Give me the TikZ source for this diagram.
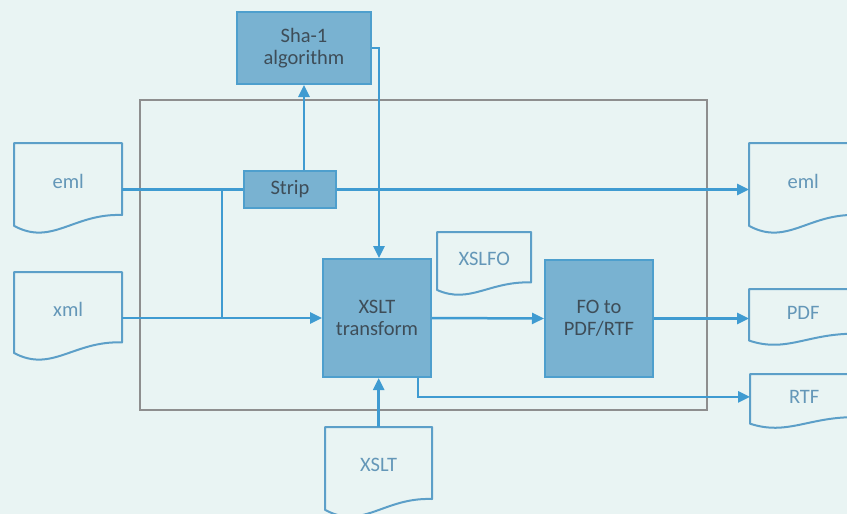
\documentclass[tikz,border=0pt]{standalone}
\usepackage{fontspec}
\setmainfont{Carlito}
\usetikzlibrary{arrows.meta,calc}
\definecolor{bg}{HTML}{E9F4F3}
\definecolor{boxfill}{HTML}{79B2D1}
\definecolor{boxedge}{HTML}{4E9FCD}
\definecolor{conncol}{HTML}{3F9BD1}
\definecolor{docedge}{HTML}{5C9FC8}
\definecolor{doctext}{HTML}{6497B8}
\definecolor{boxtext}{HTML}{3E4D58}
\definecolor{framecol}{HTML}{8E8E8E}
\tikzset{
  procbox/.style={draw=boxedge, fill=boxfill, line width=2pt, text=boxtext, align=center,
    font=\fontsize{20.5}{22}\selectfont, inner sep=0pt},
  docnode/.style={draw=none, text=doctext, font=\fontsize{20.5}{22}\selectfont, inner sep=0pt},
  docline/.style={draw=docedge, line width=2pt, line join=round},
  conn/.style={draw=conncol, line width=2.5pt},
  arr/.style={conn, -{Triangle[length=12pt,width=11pt]}},
  framebox/.style={draw=framecol, line width=1.8pt, inner sep=0pt},
}
% name, left x, top y, width, height, label
\newcommand\docshape[6]{%
  \pgfmathsetmacro\dxa{#2+#4}%
  \pgfmathsetmacro\dyr{#3+0.8*#5}%
  \pgfmathsetmacro\dyl{#3+0.92*#5}%
  \pgfmathsetmacro\cxa{#2+0.55*#4}%
  \pgfmathsetmacro\cya{#3+0.78*#5}%
  \pgfmathsetmacro\cxb{#2+0.35*#4}%
  \pgfmathsetmacro\cyb{#3+1.15*#5}%
  \pgfmathsetmacro\nh{0.84*#5}%
  \node[docnode, anchor=north west, minimum width=#4, minimum height=\nh] (#1) at (#2,#3) {#6};
  \draw[docline] (#2,#3) -- (\dxa,#3) -- (\dxa,\dyr) .. controls (\cxa,\cya) and (\cxb,\cyb) .. (#2,\dyl) -- cycle;
}
\begin{document}
\begin{tikzpicture}[x=1pt,y=-1pt]
\useasboundingbox (0,0) rectangle (847,514);
\fill[bg] (0,0) rectangle (847,514);
\clip (0,0) rectangle (847,514);

\node[framebox, minimum width=567, minimum height=310, anchor=north west] (frame) at (139,99) {};

\node[procbox, minimum width=134, minimum height=72, anchor=north west] (sha) at (236,11) {Sha-1\\algorithm};
\node[procbox, minimum width=92, minimum height=37, anchor=north west] (strip) at (243,170) {Strip};
\node[procbox, minimum width=108, minimum height=118, anchor=north west] (xslt) at (322,258) {XSLT\\transform};
\node[procbox, minimum width=108, minimum height=117, anchor=north west] (fo) at (544,259) {FO to\\PDF/RTF};

\docshape{emlL}{14}{143}{108}{90}{eml}
\docshape{xml}{14}{272}{108}{88}{xml}
\docshape{emlR}{749}{143}{108}{90}{eml}
\docshape{pdf}{749}{289}{108}{56}{PDF}
\docshape{rtf}{750}{374}{108}{54}{RTF}
\docshape{xslfo}{437}{232}{94}{63}{XSLFO}
\docshape{xsltdoc}{325}{427}{107}{90}{XSLT}

\coordinate (j1) at (strip.west -| 222,0);
\coordinate (j2) at (xslt.west -| 222,0);

\draw[conn] (emlL.east |- strip.west) -- (strip.west);
\draw[conn] (j1) -- (j2);
\draw[arr] (xml.east |- xslt.west) -- (xslt.west);
\draw[arr] (sha.south |- strip.north) -- (sha.south);
\draw[arr] (sha.east) -| ([xshift=2pt]xslt.north);
\draw[arr] (strip.east) -- (emlR.west |- strip.east);
\draw[arr] (xslt.east) -- (fo.west);
\draw[arr] (fo.east) -- (pdf.west |- fo.east);
\draw[arr] ([xshift=41pt]xslt.south) |- (rtf.west);
\draw[arr] (xsltdoc.north) -- (xsltdoc.north |- xslt.south);
\end{tikzpicture}
\end{document}
